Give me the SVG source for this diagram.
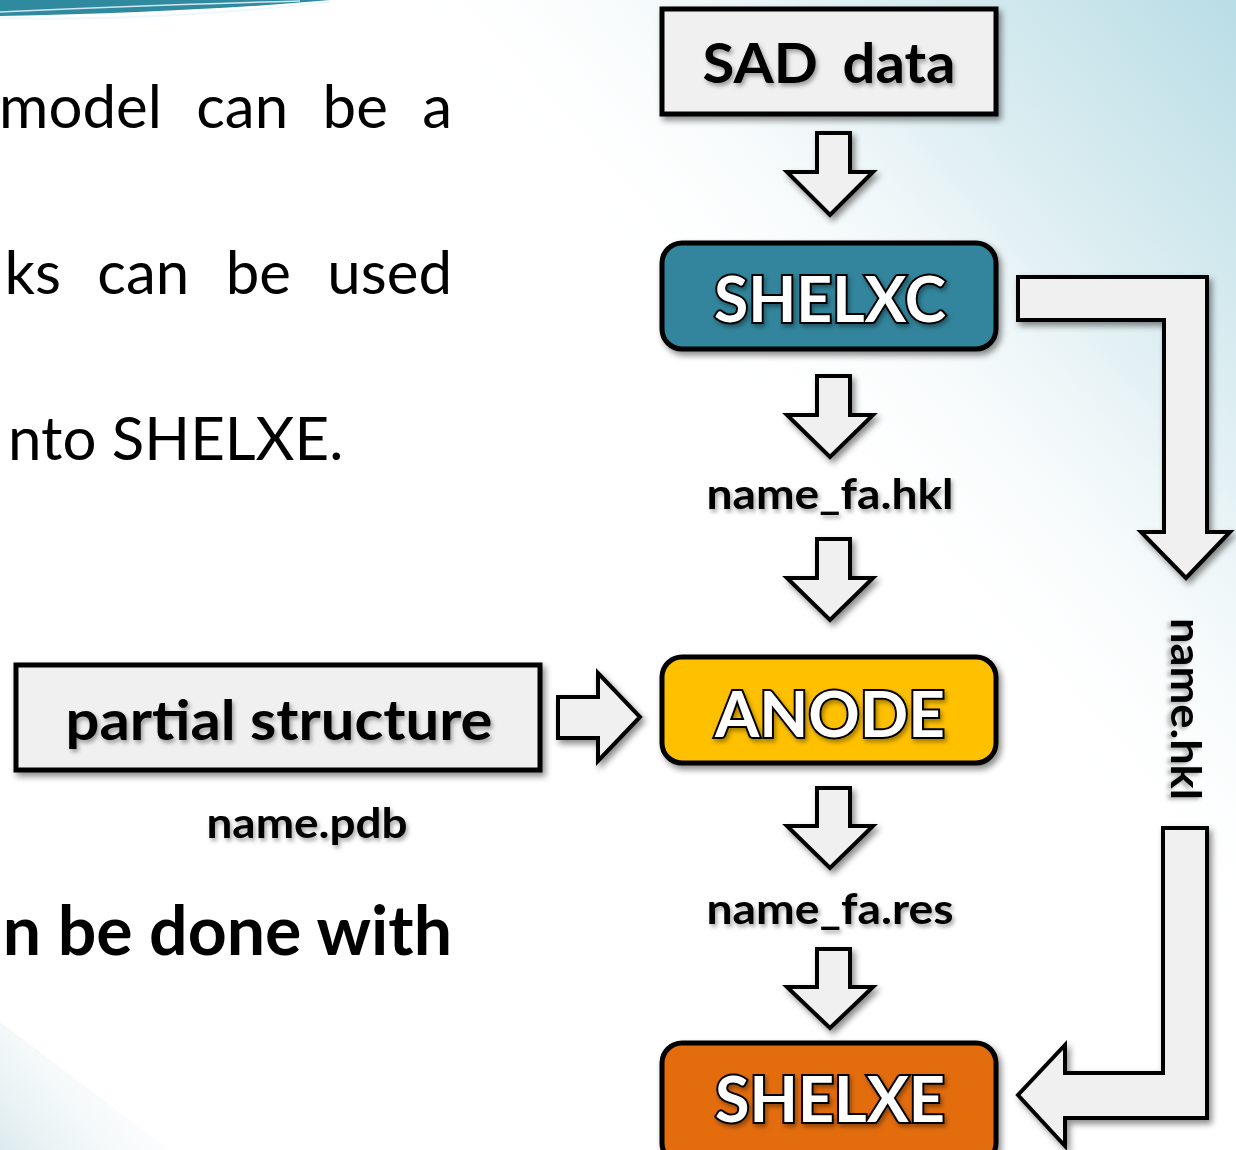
<svg xmlns="http://www.w3.org/2000/svg" width="1236" height="1150" viewBox="0 0 1236 1150">
<defs>
<linearGradient id="bgTR" x1="1236" y1="0" x2="760" y2="420" gradientUnits="userSpaceOnUse">
<stop offset="0" stop-color="#b9dde6"/><stop offset="0.5" stop-color="#e3f1f4"/><stop offset="1" stop-color="#ffffff" stop-opacity="0"/>
</linearGradient>
<linearGradient id="bgBL" x1="0" y1="1150" x2="150" y2="1030" gradientUnits="userSpaceOnUse">
<stop offset="0" stop-color="#dcebee"/><stop offset="1" stop-color="#ffffff" stop-opacity="0"/>
</linearGradient>
<filter id="sh" x="-10%" y="-10%" width="130%" height="140%">
<feDropShadow dx="3" dy="4" stdDeviation="3" flood-color="#000" flood-opacity="0.45"/>
</filter>
<filter id="tsh" x="-10%" y="-20%" width="130%" height="160%">
<feDropShadow dx="2" dy="3" stdDeviation="2" flood-color="#000" flood-opacity="0.35"/>
</filter>
<style>
.box{stroke:#000;stroke-width:5;filter:url(#sh)}
.arr{fill:#f0f0f0;stroke:#000;stroke-width:4;stroke-linejoin:miter;filter:url(#sh)}
.body{font-family:Lato,"Open Sans",sans-serif;font-size:60px;fill:#000}
.bold{font-family:Lato,"Open Sans",sans-serif;font-size:68px;font-weight:bold;fill:#000}
.lbl{font-family:Lato,"Open Sans",sans-serif;font-weight:bold;font-size:42px;fill:#000;text-anchor:middle;filter:url(#tsh)}
.big{font-family:Lato,"Open Sans",sans-serif;font-weight:bold;font-size:56px;text-anchor:middle;filter:url(#tsh)}
.prog{font-family:Lato,"Open Sans",sans-serif;font-weight:bold;font-size:64px;fill:#fff;stroke:#000;stroke-width:4;paint-order:stroke;text-anchor:middle;filter:url(#tsh)}
</style>
</defs>
<rect width="1236" height="1150" fill="#fff"/>
<rect width="1236" height="1150" fill="url(#bgTR)"/>
<polygon points="0,1150 0,1022 170,1150" fill="url(#bgBL)"/>
<g id="topdeco">
<path d="M0,0 L330,0 Q200,12 0,16 Z" fill="#2f8aa0"/>
<path d="M0,12 Q120,6 300,1" stroke="#cfe6ee" stroke-width="1.5" fill="none"/>
<path d="M0,18 Q150,22 330,2" stroke="#eef7fa" stroke-width="2" fill="none"/>
</g>
<g id="bodytext">
<text class="body" x="452" y="128" text-anchor="end" word-spacing="19">model can be a</text>
<text class="body" x="452" y="294" text-anchor="end" word-spacing="21">ks can be used</text>
<text class="body" x="8" y="460">nto SHELXE.</text>
<text class="bold" x="452" y="955" text-anchor="end">n be done with</text>
</g>
<g id="connectors">
<polygon class="arr" points="817,133 850,133 850,172 873,172 830,215 787,172 817,172"/>
<polygon class="arr" points="817,376 850,376 850,415 873,415 830,457 787,415 817,415"/>
<polygon class="arr" points="817,539 850,539 850,578 873,578 830,620 787,578 817,578"/>
<polygon class="arr" points="817,788 850,788 850,826 873,826 830,868 787,826 817,826"/>
<polygon class="arr" points="817,949 850,949 850,987 873,987 830,1028 787,987 817,987"/>
<polygon class="arr" points="558,697 598,697 598,673 640,717 598,761 598,738 558,738"/>
<polygon class="arr" points="1018,277 1207,277 1207,532 1230,532 1186,578 1141,532 1164,532 1164,320 1018,320"/>
<polygon class="arr" points="1163,828 1207,828 1207,1118 1065,1118 1065,1146 1018,1095 1065,1045 1065,1073 1163,1073"/>
<text class="lbl" x="830" y="509" textLength="247" lengthAdjust="spacingAndGlyphs">name_fa.hkl</text>
<text class="lbl" x="830" y="924" textLength="247" lengthAdjust="spacingAndGlyphs">name_fa.res</text>
<text class="lbl" x="307" y="838" textLength="201" lengthAdjust="spacingAndGlyphs">name.pdb</text>
<text class="lbl" transform="translate(1171,709) rotate(90)" textLength="182" lengthAdjust="spacingAndGlyphs">name.hkl</text>
</g>
<g id="sad">
<rect class="box" x="662" y="9" width="334" height="105" fill="#f0f0f0"/>
<text class="big" x="829" y="83" word-spacing="10" textLength="253" lengthAdjust="spacingAndGlyphs">SAD data</text>
</g>
<g id="shelxc">
<rect class="box" x="662" y="243" width="334" height="106" rx="20" fill="#31859c"/>
<text class="prog" x="830" y="322" textLength="232" lengthAdjust="spacingAndGlyphs">SHELXC</text>
</g>
<g id="partial">
<rect class="box" x="16" y="665" width="524" height="105" fill="#f0f0f0"/>
<text class="big" x="279" y="740" textLength="427" lengthAdjust="spacingAndGlyphs">partial structure</text>
</g>
<g id="anode">
<rect class="box" x="662" y="657" width="334" height="106" rx="20" fill="#ffc000"/>
<text class="prog" x="830" y="737" textLength="230" lengthAdjust="spacingAndGlyphs">ANODE</text>
</g>
<g id="shelxe">
<rect class="box" x="662" y="1043" width="334" height="120" rx="20" fill="#e36c09"/>
<text class="prog" x="830" y="1122" textLength="230" lengthAdjust="spacingAndGlyphs">SHELXE</text>
</g>
</svg>
